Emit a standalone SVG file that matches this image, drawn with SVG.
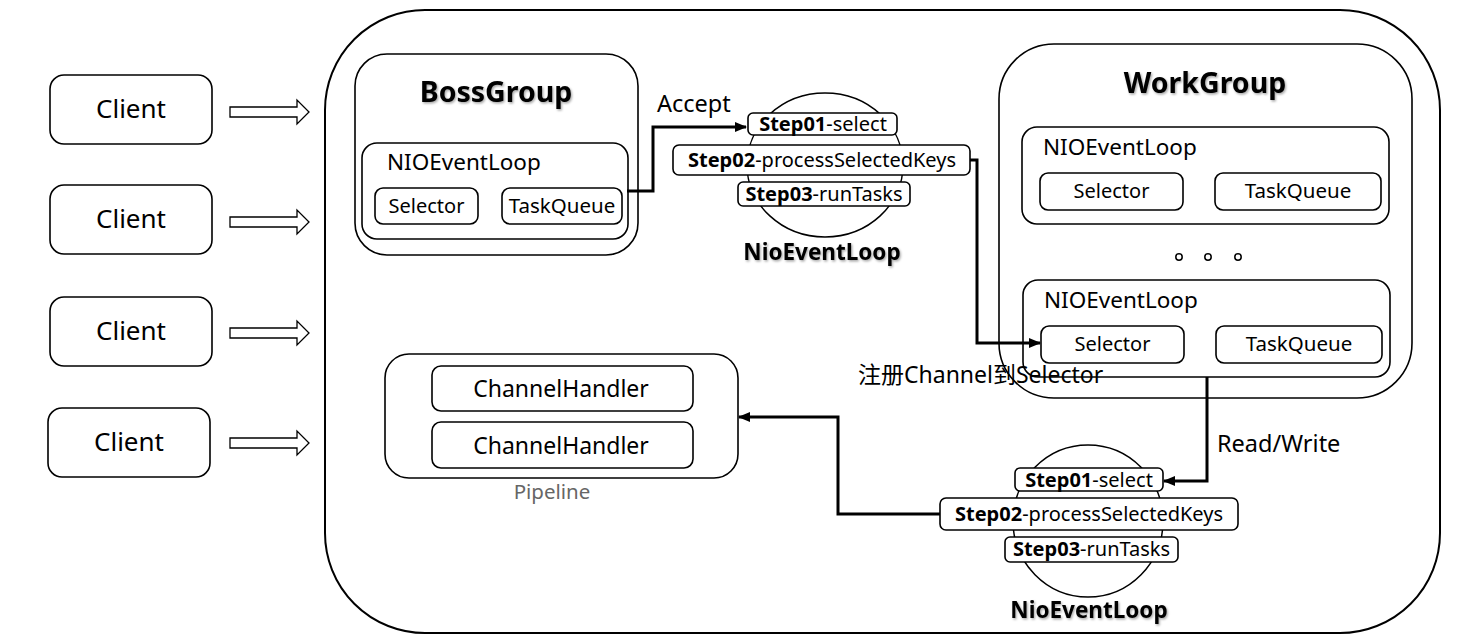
<svg xmlns="http://www.w3.org/2000/svg" width="1460" height="643" viewBox="0 0 1460 643">
<style>
text{font-family:"Noto Sans","Noto Sans CJK SC","Open Sans",sans-serif;fill:#000}
.box{fill:#fff;stroke:#000;stroke-width:1.6}
.thin{fill:none;stroke:#000;stroke-width:1.5}
.c{text-anchor:middle}
.cl{font-size:26px}
.sm{font-size:20px}
.tq{font-size:20.5px}
.nio{font-size:22.5px}
.title{font-size:28.5px;font-weight:bold;filter:url(#sh)}
.lbl{font-size:22.5px;font-weight:bold;filter:url(#sh)}
.step{font-size:20px}
.step tspan.b{font-weight:bold}
.ch{font-size:23px}
.conn{fill:none;stroke:#000;stroke-width:3}
.hollow{fill:#fff;stroke:#000;stroke-width:1.3}
</style>
<defs>
<filter id="sh" x="-10%" y="-20%" width="130%" height="150%">
<feDropShadow dx="1.2" dy="1.5" stdDeviation="1" flood-color="#000" flood-opacity="0.35"/>
</filter>
<marker id="ah" markerWidth="12" markerHeight="10" refX="11" refY="5" orient="auto" markerUnits="userSpaceOnUse">
<path d="M0,0 L12,5 L0,10 Z" fill="#000"/>
</marker>
<path id="hol" d="M0,-5 H67 V-12 L79,0 L67,12 V5 H0 Z"/>
</defs>

<g id="server">
<rect x="325" y="10" width="1115" height="623" rx="100" ry="100" fill="none" stroke="#000" stroke-width="2"/>
</g>

<g id="client1"><rect class="box" x="50" y="75" width="162" height="69" rx="14"/><text class="cl c" x="131" y="118">Client</text></g>
<g id="client2"><rect class="box" x="50" y="185" width="162" height="69" rx="14"/><text class="cl c" x="131" y="228">Client</text></g>
<g id="client3"><rect class="box" x="50" y="297" width="162" height="69" rx="14"/><text class="cl c" x="131" y="340">Client</text></g>
<g id="client4"><rect class="box" x="48" y="408" width="162" height="69" rx="14"/><text class="cl c" x="129" y="451">Client</text></g>

<g id="client-arrows">
<use href="#hol" x="230" y="112" class="hollow"/>
<use href="#hol" x="230" y="222" class="hollow"/>
<use href="#hol" x="230" y="333" class="hollow"/>
<use href="#hol" x="230" y="443" class="hollow"/>
</g>

<g id="bossgroup">
<rect class="box" x="355" y="54" width="283" height="201" rx="32"/>
<text class="title c" x="496" y="102">BossGroup</text>
<rect class="box" x="362" y="143" width="266" height="96" rx="15"/>
<text class="nio" x="387" y="170">NIOEventLoop</text>
<rect class="box" x="375" y="188" width="103" height="36" rx="8"/>
<text class="sm c" x="426.5" y="213">Selector</text>
<rect class="box" x="502" y="188" width="120" height="36" rx="8"/>
<text class="tq c" x="562" y="213">TaskQueue</text>
</g>

<g id="boss-nioeventloop">
<ellipse class="thin" cx="825" cy="165" rx="78" ry="72"/>
<rect class="box" x="748" y="113" width="149" height="22" rx="5"/>
<text class="step c" x="823" y="131"><tspan class="b">Step01</tspan>-select</text>
<rect class="box" x="673" y="145" width="297" height="30" rx="6"/>
<text class="step c" x="822" y="167"><tspan class="b">Step02</tspan>-processSelectedKeys</text>
<rect class="box" x="738" y="182" width="172" height="24" rx="5"/>
<text class="step c" x="824" y="201"><tspan class="b">Step03</tspan>-runTasks</text>
<text class="lbl c" x="822" y="260">NioEventLoop</text>
</g>

<g id="workgroup">
<rect class="box" x="999" y="44" width="413" height="354" rx="55"/>
<text class="title c" x="1205" y="93">WorkGroup</text>
<rect class="box" x="1022" y="127" width="367" height="97" rx="15"/>
<text class="nio" x="1043" y="155">NIOEventLoop</text>
<rect class="box" x="1040" y="173" width="143" height="37" rx="8"/>
<text class="sm c" x="1111.5" y="198">Selector</text>
<rect class="box" x="1215" y="173" width="166" height="37" rx="8"/>
<text class="tq c" x="1298" y="198">TaskQueue</text>
<circle class="thin" cx="1179" cy="257" r="3.2" stroke-width="2"/>
<circle class="thin" cx="1208" cy="257" r="3.2" stroke-width="2"/>
<circle class="thin" cx="1238" cy="257" r="3.2" stroke-width="2"/>
<rect class="box" x="1023" y="280" width="367" height="97" rx="15"/>
<text class="nio" x="1044" y="308">NIOEventLoop</text>
<rect class="box" x="1041" y="326" width="143" height="37" rx="8"/>
<text class="sm c" x="1112.5" y="351">Selector</text>
<rect class="box" x="1216" y="326" width="166" height="37" rx="8"/>
<text class="tq c" x="1299" y="351">TaskQueue</text>
</g>

<g id="work-nioeventloop">
<ellipse class="thin" cx="1088" cy="521" rx="75" ry="76"/>
<rect class="box" x="1015" y="468" width="148" height="23" rx="5"/>
<text class="step c" x="1089" y="487"><tspan class="b">Step01</tspan>-select</text>
<rect class="box" x="940" y="498" width="298" height="32" rx="6"/>
<text class="step c" x="1089" y="521"><tspan class="b">Step02</tspan>-processSelectedKeys</text>
<rect class="box" x="1005" y="537" width="173" height="25" rx="5"/>
<text class="step c" x="1091.5" y="556"><tspan class="b">Step03</tspan>-runTasks</text>
<text class="lbl c" x="1089" y="618">NioEventLoop</text>
</g>

<g id="pipeline">
<rect class="box" x="385" y="354" width="353" height="124" rx="24"/>
<rect class="box" x="432" y="366" width="261" height="45" rx="9"/>
<text class="ch c" x="561" y="397">ChannelHandler</text>
<rect class="box" x="432" y="422" width="261" height="46" rx="9"/>
<text class="ch c" x="561" y="454">ChannelHandler</text>
<text class="c" style="font-size:20.5px;fill:#666" x="552" y="499">Pipeline</text>
</g>

<g id="connectors">
<polyline class="conn" points="627,191 653,191 653,127 746,127" marker-end="url(#ah)"/>
<polyline class="conn" points="970,160 977,160 977,343 1040,343" marker-end="url(#ah)"/>
<polyline class="conn" points="1207,377 1207,481 1164,481" marker-end="url(#ah)"/>
<polyline class="conn" points="940,514 838,514 838,417 739,417" marker-end="url(#ah)"/>
</g>

<g id="labels">
<text style="font-size:23.5px" x="657" y="112">Accept</text>
<text style="font-size:23px" x="858" y="383">注册Channel到Selector</text>
<text style="font-size:23.5px" x="1217" y="452">Read/Write</text>
</g>
</svg>
